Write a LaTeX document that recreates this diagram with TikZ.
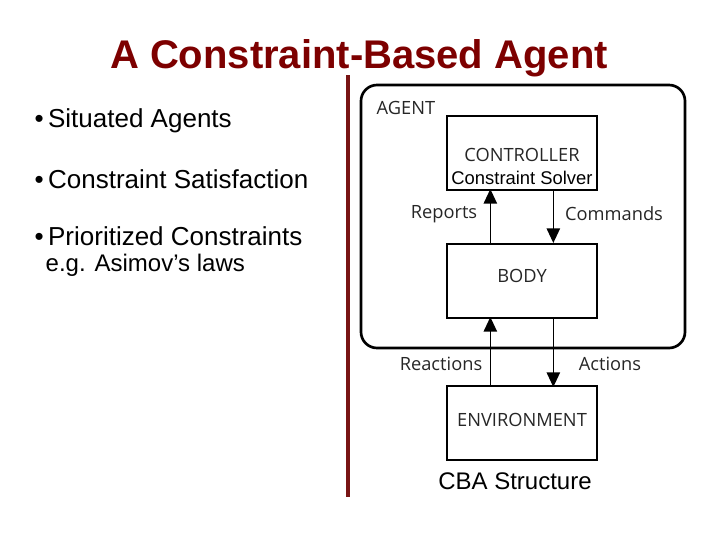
\documentclass[tikz,border=0pt]{standalone}
\usepackage{fontspec}
\setmainfont{Liberation Sans}
\newfontfamily\dfont{Open Sans}
\usetikzlibrary{arrows.meta}
\definecolor{dred}{RGB}{120,20,20}
\definecolor{tred}{RGB}{125,0,0}
\begin{document}
\begin{tikzpicture}[x=0.75pt,y=-0.75pt,
 box/.style={draw,line width=1.5pt,minimum width=112pt,minimum height=55.5pt,inner sep=0},
 dl/.style={font=\dfont\fontsize{13.7}{15}\selectfont,text=black!85},
 bl/.style={font=\fontsize{19.5}{22}\selectfont,anchor=west},
 arr/.style={line width=1.2pt,-{Triangle[length=11pt,width=10pt]}}]
\useasboundingbox (0,0) rectangle (720,540);
\node[text=tred,font=\bfseries\fontsize{30}{36}\selectfont] (title) at (359,58) {A Constraint-Based Agent};
\draw[dred,line width=2.5pt] (348,75) -- (348,497);
\node[bl] (b1) at (30,121) {\textbullet\,Situated Agents};
\node[bl] (b2) at (30,179) {\textbullet\,Constraint Satisfaction};
\node[bl] (b3) at (30,236) {\textbullet\,Prioritized Constraints};
\node[bl,font=\fontsize{18}{22}\selectfont] (b4) at (41,265) {e.g. Asimov’s laws};
\draw[line width=2pt,rounded corners=12pt] (361,85) rectangle (685,348);
\node[dl,anchor=west] (ag) at (372,108) {AGENT};
\node[box] (ctl) at (522,152.5) {};
\node[dl] (ctlt) at (522,155) {CONTROLLER};
\node[font=\fontsize{13.8}{15}\selectfont] (cs) at (522,178) {Constraint Solver};
\node[box] (body) at (522,281) {};
\node[dl] at (522,276) {BODY};
\node[box] (env) at (522,423) {};
\node[dl] at (522,420) {ENVIRONMENT};
\draw[arr] (body.north west) ++(44,0) -- ++(0,-54);
\draw[arr] (body.north west) ++(107,-54) -- ++(0,54);
\draw[arr] (env.north west) ++(44,0) -- ++(0,-68);
\draw[arr] (body.south west) ++(107,0) -- ++(0,68);
\node[dl] at (444,214) {Reports};
\node[dl] at (614,214) {Commands};
\node[dl] at (441,364) {Reactions};
\node[dl] at (610,364) {Actions};
\node[font=\fontsize{18}{21}\selectfont] (cba) at (515,481) {CBA Structure};
\end{tikzpicture}
\end{document}
